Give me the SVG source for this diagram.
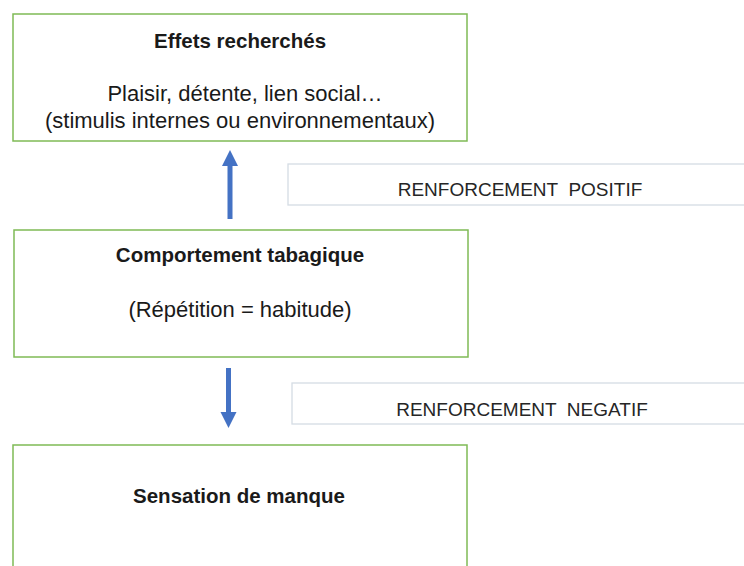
<svg xmlns="http://www.w3.org/2000/svg" width="744" height="566" viewBox="0 0 744 566">
  <style>
    .box { fill: #ffffff; stroke: #7fba55; stroke-width: 1.5; }
    .lbl { fill: #ffffff; stroke: #d5dce4; stroke-width: 1.3; }
    .t { font-family: "Liberation Sans", Arial, sans-serif; fill: #1a1a1a; text-anchor: middle; white-space: pre; }
    .b { font-size: 20.5px; font-weight: bold; }
    .r { font-size: 22px; }
    .c { font-size: 19px; fill: #262626; }
    .arr { fill: #4472c4; }
  </style>
  <rect width="744" height="566" fill="#ffffff"/>
  <g id="effets">
    <rect class="box" x="13" y="14" width="454" height="127"/>
    <text class="t b" x="240" y="48">Effets recherchés</text>
    <text class="t r" x="245" y="101">Plaisir, détente, lien social…</text>
    <text class="t r" x="240" y="128">(stimulis internes ou environnementaux)</text>
  </g>
  <g id="renforcement-positif">
    <rect class="lbl" x="288" y="164" width="470" height="41"/>
    <text class="t c" x="520" y="196" xml:space="preserve">RENFORCEMENT  POSITIF</text>
  </g>
  <g id="comportement">
    <rect class="box" x="14" y="230" width="454" height="127"/>
    <text class="t b" x="240" y="262">Comportement tabagique</text>
    <text class="t r" x="240" y="317">(Répétition = habitude)</text>
  </g>
  <g id="renforcement-negatif">
    <rect class="lbl" x="292" y="383" width="470" height="41"/>
    <text class="t c" x="522" y="416" xml:space="preserve">RENFORCEMENT  NEGATIF</text>
  </g>
  <g id="manque">
    <rect class="box" x="13" y="445" width="454" height="140"/>
    <text class="t b" x="239" y="503">Sensation de manque</text>
  </g>
  <g id="connectors">
    <path class="arr" d="M230,150 L238,166 L232.5,166 L232.5,219 L227.5,219 L227.5,166 L222,166 Z"/>
    <path class="arr" d="M228.5,428 L236.5,412 L231,412 L231,368 L226,368 L226,412 L220.5,412 Z"/>
  </g>
</svg>
